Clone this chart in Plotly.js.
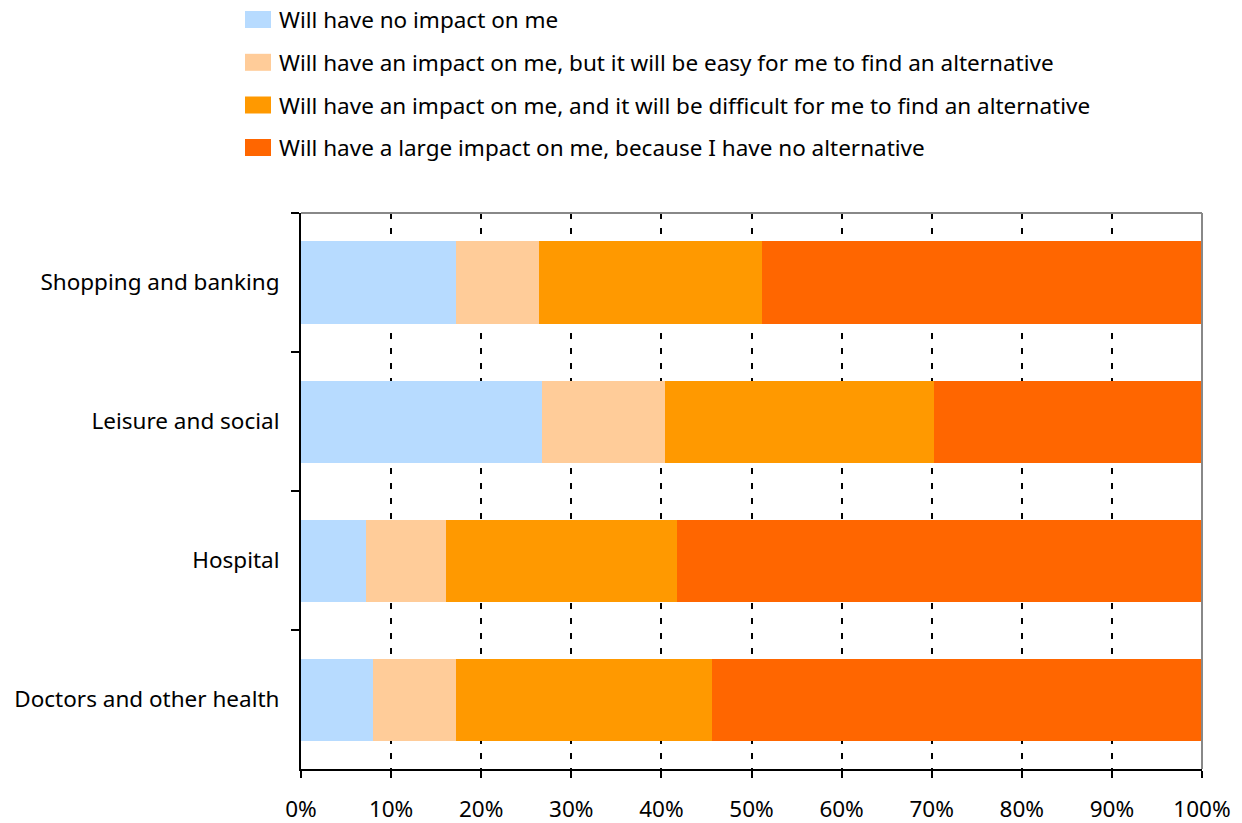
<!DOCTYPE html>
<html>
<head>
<meta charset="utf-8">
<script src="https://cdn.plot.ly/plotly-3.0.1.min.js"></script>
<style>html,body{margin:0;padding:0;background:#fff;}#chart{width:1242px;height:823px;}</style>
</head>
<body>
<div id="chart"></div>
<script>
var categories = ["Shopping and banking", "Leisure and social", "Hospital", "Doctors and other health"];
var seriesNames = [
  "Will have no impact on me",
  "Will have an impact on me, but it will be easy for me to find an alternative",
  "Will have an impact on me, and it will be difficult for me to find an alternative",
  "Will have a large impact on me, because I have no alternative"
];
var noImpact = [17.2, 26.7, 7.2, 8.0];
var easyAlternative = [9.2, 13.7, 8.9, 9.2];
var difficultAlternative = [24.8, 29.9, 25.6, 28.4];
var noAlternative = [48.8, 29.7, 58.3, 54.4];
var tickValues = [0, 10, 20, 30, 40, 50, 60, 70, 80, 90, 100];
var tickLabels = ["0%", "10%", "20%", "30%", "40%", "50%", "60%", "70%", "80%", "90%", "100%"];

var colors = ["#B7DBFF", "#FFCC99", "#FF9900", "#FF6600"];
var seriesValues = [noImpact, easyAlternative, difficultAlternative, noAlternative];
var FONT = "Noto Sans, sans-serif";
var FS = 22.5;

var traces = seriesValues.map(function (vals, i) {
  return {
    type: "bar",
    orientation: "h",
    name: seriesNames[i],
    x: vals,
    y: categories,
    marker: {color: colors[i], line: {width: 0}},
    hoverinfo: "x+name",
    showlegend: false
  };
});

// plot area in pixels
var W = 1242, H = 823, L = 301, R = 1202, T = 213, B = 769;
function px2x(px) { return (px - L) / (R - L); }
function py2y(py) { return (B - py) / (B - T); }

// manual legend (large rectangular swatches, as in the reference)
var legendCenters = [19.5, 62.3, 105, 147.5];
var shapes = [];
var annotations = [];
seriesNames.forEach(function (name, i) {
  var cy = legendCenters[i];
  shapes.push({
    type: "rect", xref: "paper", yref: "paper",
    x0: px2x(245), x1: px2x(271), y0: py2y(cy + 8.5), y1: py2y(cy - 8.5),
    fillcolor: colors[i], line: {width: 0}
  });
  annotations.push({
    xref: "paper", yref: "paper", x: px2x(277), y: py2y(cy),
    xanchor: "left", yanchor: "middle", showarrow: false,
    text: name, font: {family: FONT, size: FS, color: "#000000"}
  });
});
shapes.push({type: "line", xref: "paper", yref: "paper", x0: 0, x1: 1, y0: 1, y1: 1, line: {color: "#888888", width: 2}});
shapes.push({type: "line", xref: "paper", yref: "paper", x0: 1, x1: 1, y0: 0, y1: 1, line: {color: "#888888", width: 2}});

var layout = {
  width: W,
  height: H,
  paper_bgcolor: "#ffffff",
  plot_bgcolor: "#ffffff",
  barmode: "stack",
  bargap: 0.41,
  margin: {l: L, r: W - R, t: T, b: H - B, pad: 0},
  font: {family: FONT, size: FS, color: "#000000"},
  showlegend: false,
  xaxis: {
    range: [0, 100],
    tickvals: tickValues,
    ticktext: tickLabels,
    showgrid: true,
    gridcolor: "#000000",
    gridwidth: 2,
    griddash: "6px,9px",
    zeroline: false,
    showline: true,
    linecolor: "#000000",
    linewidth: 2,
    ticks: "outside",
    ticklen: 7,
    tickwidth: 2,
    tickcolor: "#000000",
    ticklabelstandoff: 12,
    tickfont: {family: FONT, size: FS, color: "#000000"},
    fixedrange: true
  },
  yaxis: {
    type: "category",
    autorange: "reversed",
    tickson: "boundaries",
    showgrid: false,
    zeroline: false,
    showline: true,
    linecolor: "#000000",
    linewidth: 2,
    ticks: "outside",
    ticklen: 8,
    tickwidth: 2,
    tickcolor: "#000000",
    ticklabelstandoff: 15,
    tickfont: {family: FONT, size: FS, color: "#000000"},
    fixedrange: true
  },
  shapes: shapes,
  annotations: annotations
};

Plotly.newPlot("chart", traces, layout, {displayModeBar: false, staticPlot: true});
</script>
</body>
</html>
